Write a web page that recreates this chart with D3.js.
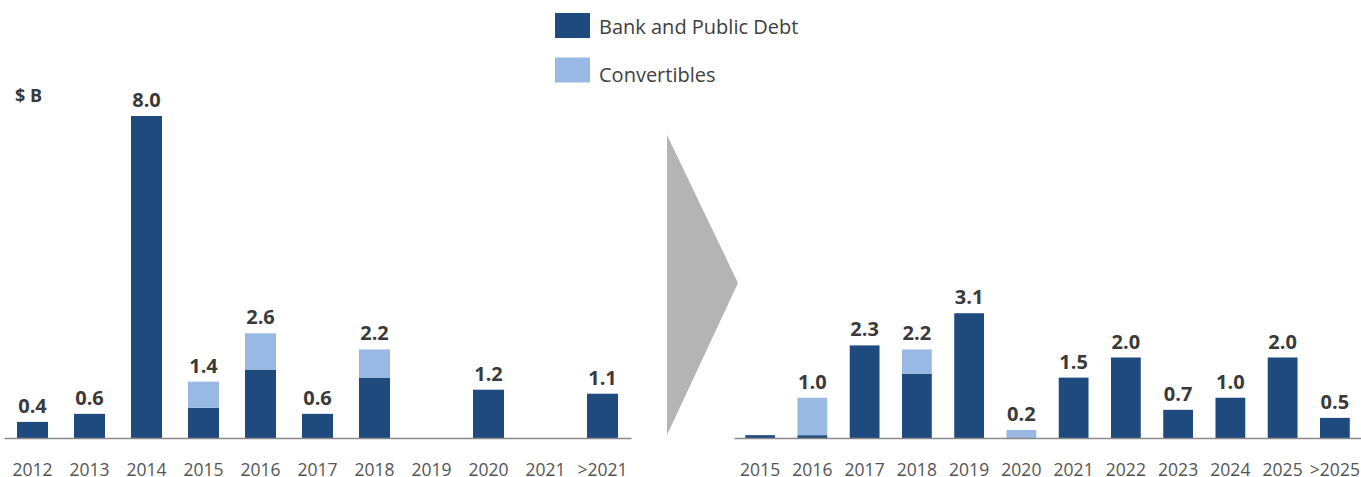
<!DOCTYPE html>
<html>
<head>
<meta charset="utf-8">
<script src="https://cdn.jsdelivr.net/npm/d3@7"></script>
<style>
  html, body { margin: 0; padding: 0; background: #fff; }
  svg { display: block; font-family: "Open Sans", sans-serif; }
</style>
</head>
<body>
<svg id="chart" width="1361" height="477"></svg>
<script>
// Debt maturity profile, $ billions: before (left) and after (right)
const leftYears = ["2012", "2013", "2014", "2015", "2016", "2017", "2018", "2019", "2020", "2021", ">2021"];
const leftBank  = [0.4, 0.6, 8.0, 0.75, 1.7, 0.6, 1.5, 0, 1.2, 0, 1.1];
const leftConv  = [0, 0, 0, 0.65, 0.9, 0, 0.7, 0, 0, 0, 0];
const leftLabels = ["0.4", "0.6", "8.0", "1.4", "2.6", "0.6", "2.2", null, "1.2", null, "1.1"];

const rightYears = ["2015", "2016", "2017", "2018", "2019", "2020", "2021", "2022", "2023", "2024", "2025", ">2025"];
const rightBank  = [0.07, 0.07, 2.3, 1.6, 3.1, 0, 1.5, 2.0, 0.7, 1.0, 2.0, 0.5];
const rightConv  = [0, 0.93, 0, 0.6, 0, 0.2, 0, 0, 0, 0, 0, 0];
const rightLabels = [null, "1.0", "2.3", "2.2", "3.1", "0.2", "1.5", "2.0", "0.7", "1.0", "2.0", "0.5"];

const seriesNames = ["Bank and Public Debt", "Convertibles"];
const colors = ["#1f4a7e", "#98b9e4"];

const svg = d3.select("#chart");
const baseY = 438;

// shared value scale for both panels
const y = d3.scaleLinear().domain([0, 8]).range([baseY, 116]);

function panel(years, bank, conv, labels, x0, x1, pad) {
  const x = d3.scaleBand().domain(years).range([x0, x1]).paddingInner(pad).paddingOuter(pad / 2);
  const g = svg.append("g");

  const rows = years.map((yr, i) => ({ yr, bank: bank[i], conv: conv[i], label: labels[i] }));

  g.selectAll("rect.bank").data(rows.filter(d => d.bank > 0)).join("rect")
    .attr("class", "bank")
    .attr("x", d => x(d.yr)).attr("width", x.bandwidth())
    .attr("y", d => y(d.bank)).attr("height", d => y(0) - y(d.bank))
    .attr("fill", colors[0]);

  g.selectAll("rect.conv").data(rows.filter(d => d.conv > 0)).join("rect")
    .attr("class", "conv")
    .attr("x", d => x(d.yr)).attr("width", x.bandwidth())
    .attr("y", d => y(d.bank + d.conv)).attr("height", d => y(d.bank) - y(d.bank + d.conv))
    .attr("fill", colors[1]);

  g.selectAll("text.val").data(rows.filter(d => d.label)).join("text")
    .attr("class", "val")
    .attr("x", d => x(d.yr) + x.bandwidth() / 2)
    .attr("y", d => y(d.bank + d.conv) - 9)
    .attr("text-anchor", "middle")
    .attr("font-size", 20).attr("font-weight", 700).attr("fill", "#3a3a3a")
    .text(d => d.label);

  const axis = g.append("g").attr("transform", `translate(0,${baseY})`)
    .call(d3.axisBottom(x).tickSize(0).tickSizeOuter(0));
  axis.select(".domain").attr("stroke", "#8a8a8a").attr("stroke-width", 1.5);
  axis.selectAll(".tick text")
    .attr("y", 37.5).attr("dy", 0)
    .attr("font-size", 17.5).attr("fill", "#555")
    .attr("font-family", "Open Sans, sans-serif");
}

panel(leftYears, leftBank, leftConv, leftLabels, 4, 631, 0.456);
panel(rightYears, rightBank, rightConv, rightLabels, 734, 1361, 0.43);

// unit label
svg.append("text").attr("x", 15).attr("y", 101.5)
  .attr("font-size", 18).attr("font-weight", 700).attr("fill", "#3a3a3a")
  .text("$ B");

// transition arrow between the panels
svg.append("polygon")
  .attr("points", "667,135 738,283 667,435")
  .attr("fill", "#b4b4b4");

// legend
const legend = svg.append("g");
seriesNames.forEach((name, i) => {
  legend.append("rect")
    .attr("x", 555).attr("y", 13 + i * 44.5)
    .attr("width", 35).attr("height", 25)
    .attr("fill", colors[i]);
  legend.append("text")
    .attr("x", 599).attr("y", 34.3 + i * 47.4)
    .attr("font-size", 20).attr("fill", "#404040")
    .text(name);
});
</script>
</body>
</html>
